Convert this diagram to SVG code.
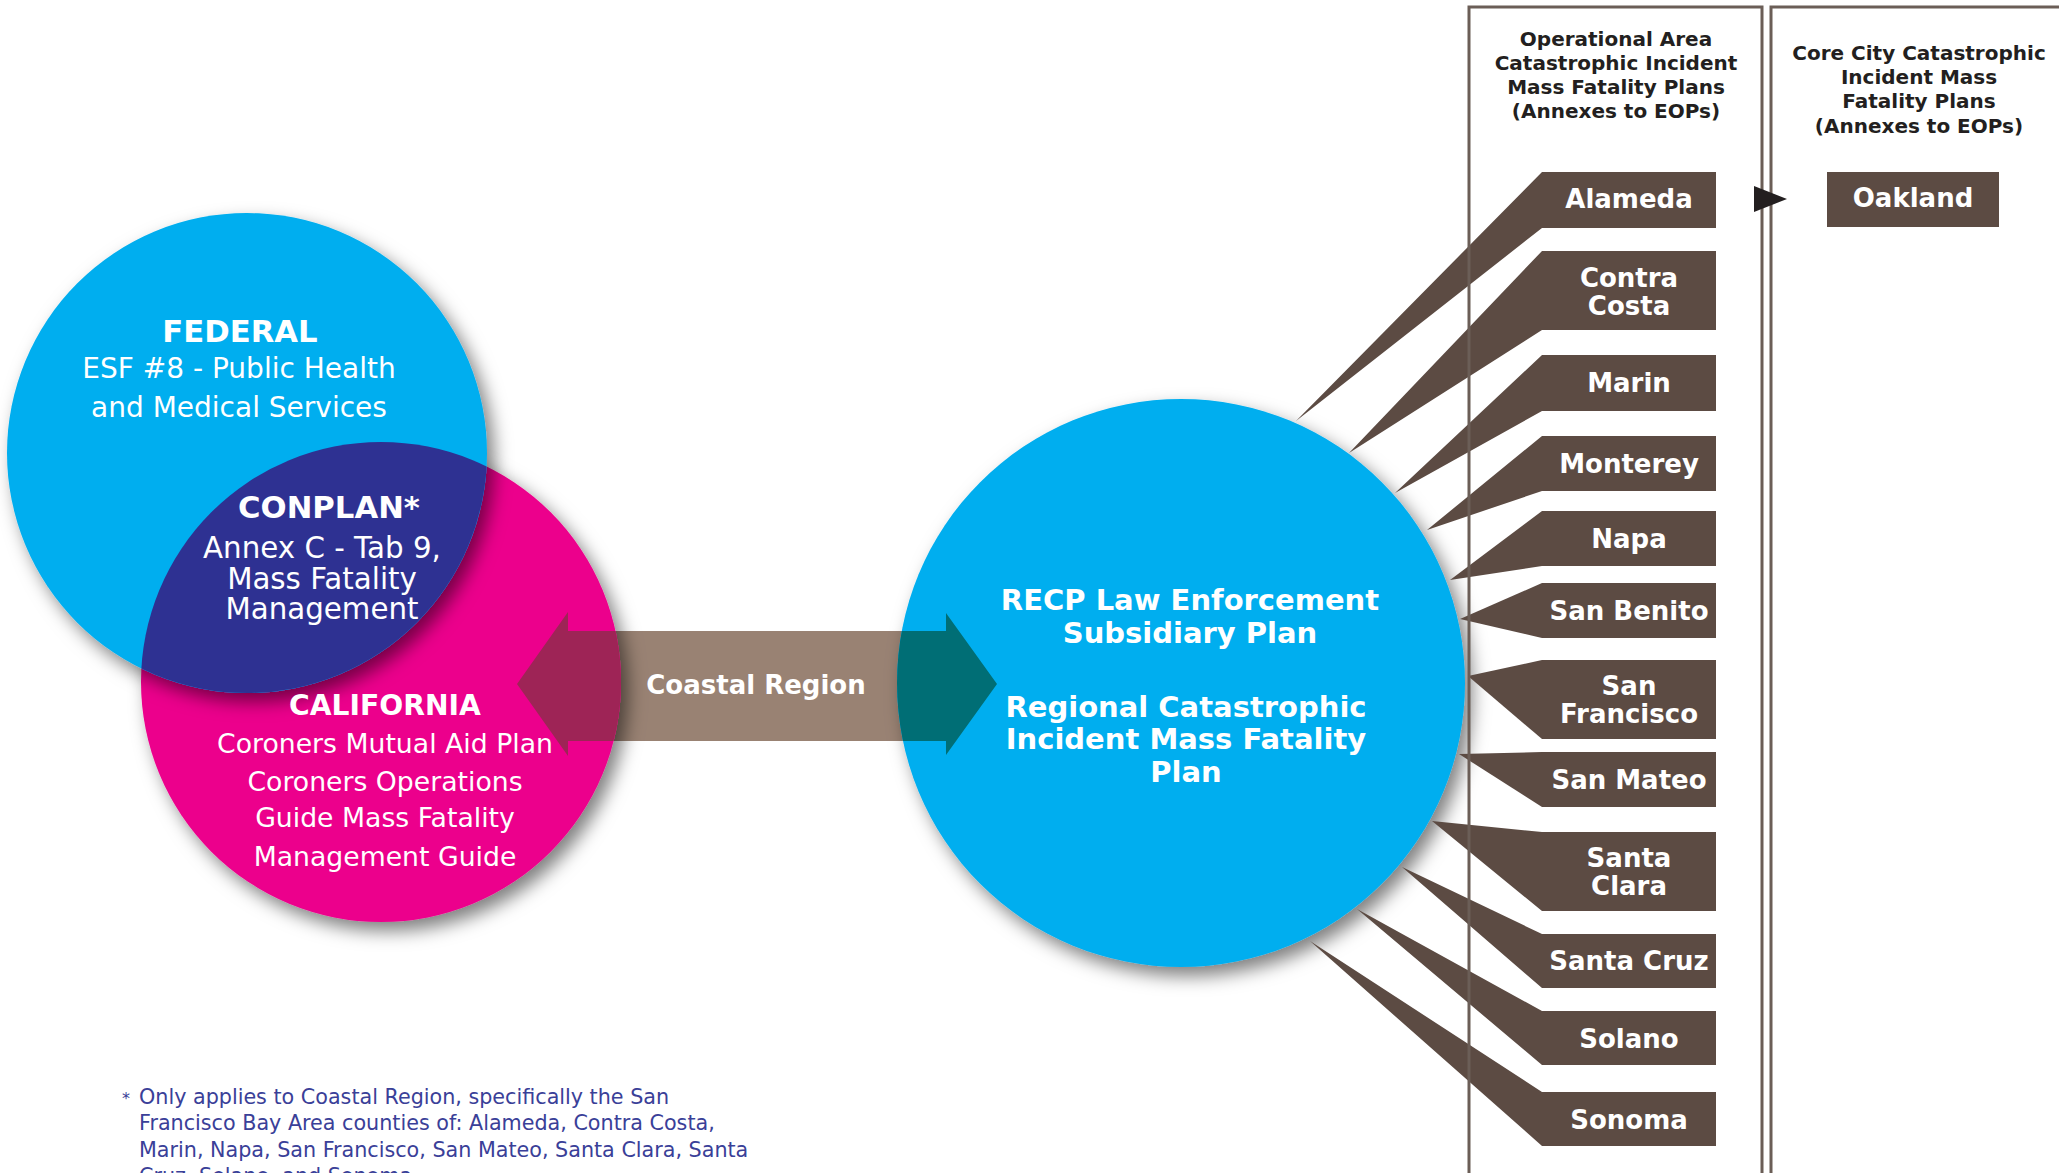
<svg xmlns="http://www.w3.org/2000/svg" width="2059" height="1173" viewBox="0 0 2059 1173">
<defs>
<filter id="sh" x="-30%" y="-30%" width="160%" height="160%">
<feDropShadow dx="7" dy="9" stdDeviation="9" flood-color="#000" flood-opacity="0.5"/>
</filter>
<clipPath id="clipFed"><circle cx="247" cy="453" r="240"/></clipPath>
<clipPath id="clipCal"><circle cx="381" cy="682" r="240"/></clipPath>
<clipPath id="clipRecp"><circle cx="1181" cy="683" r="284"/></clipPath>
<path id="arrowShape" d="M517,684 L568,612 L568,631 L946,631 L946,613 L997,684 L946,755 L946,741 L568,741 L568,756 Z"/>
</defs>
<style>
.cty{fill:#5c4b43}
.lbl{font-family:"DejaVu Sans",sans-serif;font-weight:bold;font-size:26px;fill:#fff;text-anchor:middle}
.hdr{font-family:"DejaVu Sans",sans-serif;font-weight:bold;font-size:20px;fill:#231f20;text-anchor:middle}
.cb{font-family:"DejaVu Sans",sans-serif;font-weight:bold;font-size:29px;fill:#fff;text-anchor:middle}
.cr{font-family:"DejaVu Sans",sans-serif;font-size:28px;fill:#fff;text-anchor:middle}
.big{font-size:30.7px}
.mid{font-size:29.3px}
.sm{font-size:26.7px}
.cal{font-size:28.2px}
.foot{font-family:"DejaVu Sans",sans-serif;font-size:20.7px;fill:#3a4098}
.border{fill:none;stroke:#6b5e57;stroke-width:3}
</style>
<rect width="2059" height="1173" fill="#fff"/>

<g id="connectors">
<use href="#arrowShape" fill="#998273"/>
</g>

<g id="california">
<circle cx="381" cy="682" r="240" fill="#ec008c" filter="url(#sh)"/>
</g>
<g id="federal">
<circle cx="247" cy="453" r="240" fill="#00aeef" filter="url(#sh)"/>
</g>
<g id="conplan">
<circle cx="381" cy="682" r="240" fill="#2e3192" clip-path="url(#clipFed)"/>
</g>
<g id="recp">
<circle cx="1181" cy="683" r="284" fill="#00aeef" filter="url(#sh)"/>
</g>

<g id="arrow-overlay">
<use href="#arrowShape" fill="#9e2456" clip-path="url(#clipCal)"/>
<use href="#arrowShape" fill="#006e75" clip-path="url(#clipRecp)"/>
<text class="lbl" x="756" y="694">Coastal Region</text>
</g>

<g id="federal-text">
<text class="cb big" x="240" y="342">FEDERAL</text>
<text class="cr" x="239" y="378">ESF #8 - Public Health</text>
<text class="cr" x="239" y="417">and Medical Services</text>
</g>
<g id="conplan-text">
<text class="cb big" x="329" y="518">CONPLAN*</text>
<text class="cr mid" x="322" y="558">Annex C - Tab 9,</text>
<text class="cr mid" x="322" y="589">Mass Fatality</text>
<text class="cr mid" x="322" y="619">Management</text>
</g>
<g id="california-text">
<text class="cb cal" x="385" y="715">CALIFORNIA</text>
<text class="cr sm" x="385" y="753">Coroners Mutual Aid Plan</text>
<text class="cr sm" x="385" y="791">Coroners Operations</text>
<text class="cr sm" x="385" y="827">Guide Mass Fatality</text>
<text class="cr sm" x="385" y="866">Management Guide</text>
</g>
<g id="recp-text">
<text class="cb" x="1190" y="610">RECP Law Enforcement</text>
<text class="cb" x="1190" y="643">Subsidiary Plan</text>
<text class="cb" x="1186" y="717">Regional Catastrophic</text>
<text class="cb" x="1186" y="749">Incident Mass Fatality</text>
<text class="cb" x="1186" y="782">Plan</text>
</g>

<g id="counties">
<g id="alameda"><polygon class="cty" points="1296,421 1542,172 1716,172 1716,228 1542,228"/><text class="lbl" x="1629" y="208">Alameda</text></g>
<g id="contra-costa"><polygon class="cty" points="1349,453 1542,251 1716,251 1716,330 1542,330"/><text class="lbl" x="1629" y="287">Contra</text><text class="lbl" x="1629" y="315">Costa</text></g>
<g id="marin"><polygon class="cty" points="1395,493 1542,355 1716,355 1716,411 1542,411"/><text class="lbl" x="1629" y="392">Marin</text></g>
<g id="monterey"><polygon class="cty" points="1427,530 1542,436 1716,436 1716,491 1542,491"/><text class="lbl" x="1629" y="473">Monterey</text></g>
<g id="napa"><polygon class="cty" points="1450,580 1542,511 1716,511 1716,566 1542,566"/><text class="lbl" x="1629" y="548">Napa</text></g>
<g id="san-benito"><polygon class="cty" points="1460,619 1542,583 1716,583 1716,638 1542,638"/><text class="lbl" x="1629" y="620">San Benito</text></g>
<g id="san-francisco"><polygon class="cty" points="1468,676 1542,660 1716,660 1716,739 1542,739"/><text class="lbl" x="1629" y="695">San</text><text class="lbl" x="1629" y="723">Francisco</text></g>
<g id="san-mateo"><polygon class="cty" points="1459,754 1542,752 1716,752 1716,807 1542,807"/><text class="lbl" x="1629" y="789">San Mateo</text></g>
<g id="santa-clara"><polygon class="cty" points="1432,821 1542,832 1716,832 1716,911 1542,911"/><text class="lbl" x="1629" y="867">Santa</text><text class="lbl" x="1629" y="895">Clara</text></g>
<g id="santa-cruz"><polygon class="cty" points="1402,867 1542,934 1716,934 1716,988 1542,988"/><text class="lbl" x="1629" y="970">Santa Cruz</text></g>
<g id="solano"><polygon class="cty" points="1357,909 1542,1011 1716,1011 1716,1065 1542,1065"/><text class="lbl" x="1629" y="1048">Solano</text></g>
<g id="sonoma"><polygon class="cty" points="1310,941 1542,1092 1716,1092 1716,1146 1542,1146"/><text class="lbl" x="1629" y="1129">Sonoma</text></g>
</g>

<g id="operational-area">
<path class="border" d="M1469,1180 V7 H1762 V1180"/>
<text class="hdr" x="1616" y="46">Operational Area</text>
<text class="hdr" x="1616" y="70">Catastrophic Incident</text>
<text class="hdr" x="1616" y="94">Mass Fatality Plans</text>
<text class="hdr" x="1616" y="118">(Annexes to EOPs)</text>
</g>
<g id="core-city">
<path class="border" d="M1771,1180 V7 H2070"/>
<text class="hdr" x="1919" y="60">Core City Catastrophic</text>
<text class="hdr" x="1919" y="84">Incident Mass</text>
<text class="hdr" x="1919" y="108">Fatality Plans</text>
<text class="hdr" x="1919" y="133">(Annexes to EOPs)</text>
</g>
<g id="oakland">
<rect class="cty" x="1827" y="172" width="172" height="55"/>
<text class="lbl" x="1913" y="207">Oakland</text>
</g>
<g id="alameda-oakland-arrow">
<polygon points="1754,186 1754,212 1787,199" fill="#231f20"/>
</g>

<g id="footnote">
<text class="foot" x="122" y="1104" style="font-size:16px">*</text>
<text class="foot" x="139" y="1104">Only applies to Coastal Region, specifically the San</text>
<text class="foot" x="139" y="1130">Francisco Bay Area counties of: Alameda, Contra Costa,</text>
<text class="foot" x="139" y="1157">Marin, Napa, San Francisco, San Mateo, Santa Clara, Santa</text>
<text class="foot" x="139" y="1183">Cruz, Solano, and Sonoma</text>
</g>
</svg>
